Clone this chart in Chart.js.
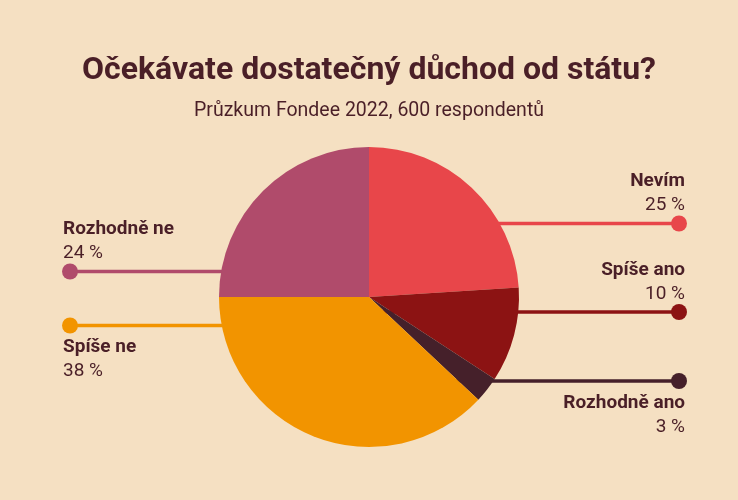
<!DOCTYPE html>
<html lang="cs">
<head>
<meta charset="utf-8">
<script src="https://cdn.jsdelivr.net/npm/chart.js@4/dist/chart.umd.min.js"></script>
<style>
    html, body { margin: 0; padding: 0; background: #f5e0c2; }
    #wrap { width: 738px; height: 500px; }
</style>
</head>
<body>
<div id="wrap"><canvas id="chart"></canvas></div>
<script>
// Odpovědi a podíly (čteno z obrázku)
const answers = ['Nevím', 'Spíše ano', 'Rozhodně ano', 'Spíše ne', 'Rozhodně ne'];
const shares = [24, 10.2, 2.8, 38, 25];
const shareLabels = ['25 %', '10 %', '3 %', '38 %', '24 %'];
const colors = ['#e8464a', '#8c1313', '#45202a', '#f29400', '#b04b6b'];

const textColor = '#4a1f27';
const fontFamily = "Roboto, 'Noto Sans', sans-serif";

// where each label sits: side, line offset from centre (x radius), text above or below the line
const labelLayout = [
    { side: 'right', dy: -0.49, below: false },
    { side: 'right', dy: 0.10, below: false },
    { side: 'right', dy: 0.56, below: true },
    { side: 'left', dy: 0.19, below: true },
    { side: 'left', dy: -0.17, below: false }
];

function anchors(chart) {
    const arcs = chart.getDatasetMeta(0).data;
    const cx = arcs[0].x;
    const cy = arcs[0].y;
    const r = arcs[0].outerRadius;
    return labelLayout.map(l => ({
        cx,
        y: cy + l.dy * r,
        dotX: l.side === 'right' ? chart.width - 59 : 70,
        ...l
    }));
}

const leaderLines = {
    id: 'leaderLines',
    beforeDatasetsDraw(chart) {
        const ctx = chart.ctx;
        ctx.save();
        ctx.lineWidth = 3.5;
        anchors(chart).forEach((a, i) => {
            ctx.strokeStyle = colors[i];
            ctx.beginPath();
            ctx.moveTo(a.cx, a.y);
            ctx.lineTo(a.dotX, a.y);
            ctx.stroke();
        });
        ctx.restore();
    },
    afterDatasetsDraw(chart) {
        const ctx = chart.ctx;
        ctx.save();
        anchors(chart).forEach((a, i) => {
            ctx.fillStyle = colors[i];
            ctx.beginPath();
            ctx.arc(a.dotX, a.y, 8, 0, Math.PI * 2);
            ctx.fill();

            const tx = a.side === 'right' ? a.dotX + 6 : a.dotX - 7;
            ctx.textAlign = a.side === 'right' ? 'right' : 'left';
            ctx.textBaseline = 'middle';
            ctx.fillStyle = textColor;
            const nameY = a.below ? a.y + 22 : a.y - 42;
            ctx.font = 'bold 19px ' + fontFamily;
            ctx.fillText(answers[i], tx, nameY);
            ctx.font = '19px ' + fontFamily;
            ctx.fillText(shareLabels[i], tx, nameY + 24);
        });
        ctx.restore();
    }
};

new Chart(document.getElementById('chart'), {
    type: 'pie',
    data: {
        labels: answers,
        datasets: [{
            data: shares,
            backgroundColor: colors,
            borderWidth: 0,
            hoverOffset: 0
        }]
    },
    options: {
        responsive: true,
        maintainAspectRatio: false,
        animation: false,
        layout: { padding: { top: 0, bottom: 53, left: 0, right: 0 } },
        plugins: {
            legend: { display: false },
            tooltip: { enabled: false },
            title: {
                display: true,
                text: 'Očekávate dostatečný důchod od státu?',
                color: textColor,
                font: { family: fontFamily, size: 32, weight: 'bold' },
                padding: { top: 52, bottom: 0 }
            },
            subtitle: {
                display: true,
                text: 'Průzkum Fondee 2022, 600 respondentů',
                color: textColor,
                font: { family: fontFamily, size: 19.5 },
                padding: { top: 9, bottom: 24.2 }
            }
        }
    },
    plugins: [leaderLines]
});
</script>
</body>
</html>
